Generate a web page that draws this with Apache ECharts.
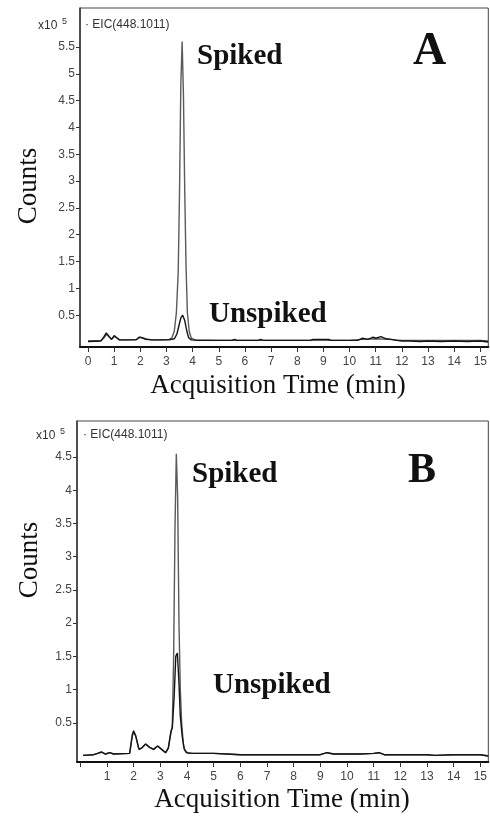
<!DOCTYPE html>
<html>
<head>
<meta charset="utf-8">
<script src="https://cdn.jsdelivr.net/npm/echarts@6/dist/echarts.min.js"></script>
<style>
html,body{margin:0;padding:0;background:#fff;}
#chart{width:490px;height:818px;}
</style>
</head>
<body>
<div id="chart"></div>
<script>
// EIC(448.1011) chromatograms, counts in x10^5
var aSpikedT   = [0,0.5,0.6,0.7,0.8,0.9,1.0,1.1,1.2,1.5, 1.85,2.0,2.15,2.4,2.8,3.1,3.2,3.3,3.38,3.45, 3.5,3.55,3.6,3.65,3.7,3.75,3.8,3.87,3.95,4.1, 5.0,6.0,7.0,8.0,9.0,10.0,10.5,11.0,11.5,12.0, 13.0,14.0,15.0,15.3];
var aSpikedV   = [0.02,0.03,0.07,0.14,0.1,0.05,0.1,0.08,0.04,0.04, 0.05,0.09,0.07,0.04,0.04,0.05,0.07,0.2,0.55,1.3, 2.8,4.8,5.6,4.6,2.8,1.4,0.55,0.2,0.07,0.04, 0.03,0.03,0.03,0.03,0.03,0.03,0.05,0.06,0.05,0.03, 0.03,0.03,0.03,0.02];
var aUnspikedT = [0,0.5,0.6,0.7,0.8,0.9,1.0,1.1,1.2,1.5, 1.85,1.95,2.05,2.2,2.5,2.8,3.1,3.3,3.4,3.5, 3.55,3.62,3.7,3.78,3.85,3.95,4.2,5.0,5.5,5.6, 5.7,6.5,6.6,6.7,8.5,8.6,9.2,9.3,10.3,10.5, 10.7,10.9,11.0,11.2,11.4,11.6,11.8,12.0,12.3,12.7, 13.0,13.5,14.0,14.5,15.0,15.3];
var aUnspikedV = [0.01,0.02,0.09,0.17,0.11,0.05,0.12,0.08,0.04,0.04, 0.04,0.09,0.08,0.05,0.04,0.04,0.04,0.06,0.15,0.35, 0.45,0.5,0.4,0.2,0.08,0.04,0.03,0.03,0.03,0.05, 0.03,0.03,0.05,0.03,0.03,0.05,0.05,0.03,0.03,0.07, 0.05,0.09,0.07,0.1,0.06,0.05,0.03,0.02,0.02,0.01, 0.02,0.01,0.02,0.01,0.02,0.0];

var bSpikedT   = [0.1,0.5,0.65,0.8,0.95,1.1,1.25, 1.85,1.95,2.0,2.08,2.2,2.3,2.45,2.6,2.75,2.9,3.05,3.2, 3.3,3.4,3.45,3.5,3.55,3.6,3.65,3.7,3.75,3.8,3.87,3.95,4.1, 5.0,5.5,6.0,6.3,7.0,8.0,9.0,9.25,9.5, 10.5,11.0,11.2,11.4,12.0,13.0,13.3,14.0,15.0,15.3];
var bSpikedV   = [0.01,0.02,0.04,0.06,0.03,0.05,0.03, 0.04,0.3,0.36,0.3,0.1,0.12,0.18,0.13,0.1,0.15,0.1,0.05, 0.12,0.35,0.45,1.5,3.4,4.55,3.9,2.0,1.0,0.5,0.15,0.06,0.04, 0.04,0.03,0.02,0.02,0.02,0.02,0.02,0.05,0.03, 0.03,0.04,0.05,0.02,0.02,0.02,0.01,0.02,0.02,0.0];
var bUnspikedT = [0.1,0.5,0.65,0.8,0.95,1.1,1.25, 1.85,1.95,2.0,2.08,2.2,2.3,2.45,2.6,2.75,2.9,3.05,3.2, 3.3,3.4,3.45,3.52,3.58,3.64,3.7,3.75,3.82,3.9,4.0,4.2, 5.0,5.5,6.0,6.3,7.0,8.0,9.0,9.25,9.5, 10.5,11.0,11.2,11.4,12.0,13.0,13.3,14.0,15.0,15.3];
var bUnspikedV = [0.01,0.02,0.04,0.06,0.03,0.05,0.03, 0.04,0.32,0.38,0.3,0.1,0.12,0.18,0.13,0.1,0.15,0.1,0.05, 0.12,0.38,0.42,0.9,1.5,1.55,1.1,0.6,0.3,0.1,0.05,0.04, 0.04,0.03,0.02,0.02,0.02,0.02,0.02,0.05,0.03, 0.03,0.04,0.05,0.02,0.02,0.02,0.01,0.02,0.02,0.0];

// tick labels
var aYTicks = [0.5,1,1.5,2,2.5,3,3.5,4,4.5,5,5.5];
var bYTicks = [0.5,1,1.5,2,2.5,3,3.5,4,4.5];
var aXTicks = [0,1,2,3,4,5,6,7,8,9,10,11,12,13,14,15];
var bXTicks = [0,1,2,3,4,5,6,7,8,9,10,11,12,13,14,15];
var bXLabels = [1,2,3,4,5,6,7,8,9,10,11,12,13,14,15];

function zip(t, v){
  var out = [];
  for(var i=0;i<t.length;i++){ out.push([t[i], v[i]]); }
  return out;
}

var sans = 'Liberation Sans';
var serif = 'Liberation Serif';

function xAxisOf(grid, min, max, ticks, labels){
  return {
    type:'value', gridIndex:grid, min:min, max:max,
    axisLine:{show:true, onZero:false, lineStyle:{color:'#111', width:2}},
    axisTick:{show:true, length:5, lineStyle:{color:'#333'}, customValues:ticks},
    axisLabel:{fontFamily:sans, fontSize:12, color:'#444', margin:9, customValues:labels},
    splitLine:{show:false}
  };
}
function yAxisOf(grid, min, max, ticks){
  return {
    type:'value', gridIndex:grid, min:min, max:max,
    axisLine:{show:true, onZero:false, lineStyle:{color:'#333', width:1.5}},
    axisTick:{show:true, length:4, lineStyle:{color:'#333'}, customValues:ticks},
    axisLabel:{fontFamily:sans, fontSize:12, color:'#444', margin:5, customValues:ticks},
    splitLine:{show:false}
  };
}
function trace(grid, data, color){
  return {
    type:'line', xAxisIndex:grid, yAxisIndex:grid, data:data,
    showSymbol:false, symbol:'none', silent:true,
    lineStyle:{color:color, width:1.4}
  };
}
function txt(x, y, s, size, family, weight, opt){
  var st = {text:s, x:0, y:0, fill:'#111', font:(weight||'normal')+' '+size+'px "'+family+'"',
            textAlign:'left', textVerticalAlign:'middle'};
  var el = {type:'text', x:x, y:y, style:st};
  if(opt){ for(var k in opt){ if(k==='rotation'){el.rotation=opt[k];} else {st[k]=opt[k];} } }
  return el;
}

var chart = echarts.init(document.getElementById('chart'));
var option = {
  backgroundColor:'#fff',
  animation:false,
  grid:[
    {left:80, right:1, top:8, height:339, show:true, borderColor:'#444', borderWidth:1},
    {left:77, right:1, top:421, height:341, show:true, borderColor:'#444', borderWidth:1}
  ],
  xAxis:[
    xAxisOf(0, -0.305, 15.305, aXTicks, aXTicks),
    xAxisOf(1, -0.124, 15.3, bXTicks, bXLabels)
  ],
  yAxis:[
    yAxisOf(0, -0.093, 6.227, aYTicks),
    yAxisOf(1, -0.09, 5.042, bYTicks)
  ],
  series:[
    trace(0, zip(aSpikedT, aSpikedV), '#5a5a5a'),
    trace(0, zip(aUnspikedT, aUnspikedV), '#151515'),
    trace(1, zip(bSpikedT, bSpikedV), '#5a5a5a'),
    trace(1, zip(bUnspikedT, bUnspikedV), '#151515')
  ],
  graphic:[
    // panel A
    txt(38, 26, 'x10', 12, sans, 'normal', {fill:'#333'}),
    txt(62, 22, '5', 9, sans, 'normal', {fill:'#333'}),
    txt(85, 25, '\u00b7 EIC(448.1011)', 12, sans, 'normal', {fill:'#333'}),
    txt(197, 57, 'Spiked', 29, serif, 'bold'),
    txt(413, 52, 'A', 46, serif, 'bold'),
    txt(209, 315, 'Unspiked', 29, serif, 'bold'),
    txt(29, 186, 'Counts', 27, serif, 'normal', {textAlign:'center', rotation:Math.PI/2}),
    txt(278, 386, 'Acquisition Time (min)', 27, serif, 'normal', {textAlign:'center'}),
    // panel B
    txt(36, 436, 'x10', 12, sans, 'normal', {fill:'#333'}),
    txt(60, 432, '5', 9, sans, 'normal', {fill:'#333'}),
    txt(83, 435, '\u00b7 EIC(448.1011)', 12, sans, 'normal', {fill:'#333'}),
    txt(192, 475, 'Spiked', 29, serif, 'bold'),
    txt(408, 471, 'B', 42, serif, 'bold'),
    txt(213, 686, 'Unspiked', 29, serif, 'bold'),
    txt(30, 560, 'Counts', 27, serif, 'normal', {textAlign:'center', rotation:Math.PI/2}),
    txt(282, 800, 'Acquisition Time (min)', 27, serif, 'normal', {textAlign:'center'})
  ]
};
chart.setOption(option);
</script>
</body>
</html>
